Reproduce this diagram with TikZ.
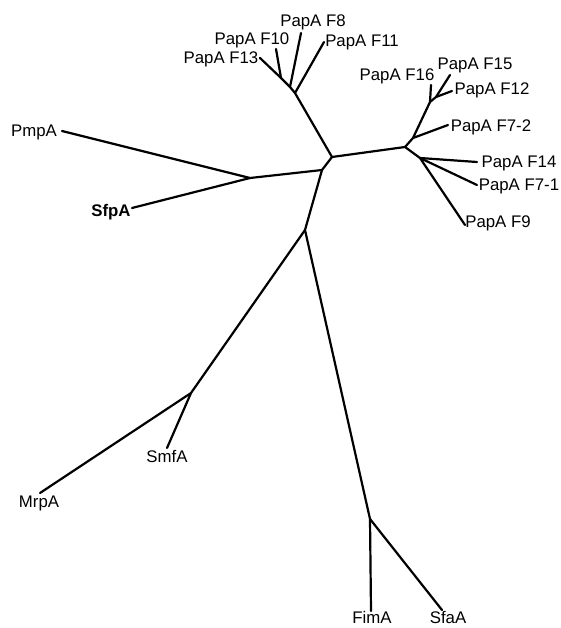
\documentclass[tikz,border=0pt]{standalone}
\usepackage{fontspec}
\setmainfont{Liberation Sans}
\tikzset{
    branch/.style={line width=2.2pt, line cap=round, line join=round}, % 树枝
    taxon/.style={font=\fontsize{16.8}{19}\selectfont, inner sep=0pt, anchor=base} % 叶子标签
}

\begin{document}
\begin{tikzpicture}[x=1pt, y=-1pt]
    \useasboundingbox (0,0) rectangle (560,628);

    % 内部节点
    \coordinate (a) at (332,157);
    \coordinate (b) at (322,170);
    \coordinate (c) at (250,178);
    \coordinate (d) at (305,230);
    \coordinate (e) at (191,393);
    \coordinate (f) at (370,519);
    \coordinate (g) at (405,147);
    \coordinate (h) at (430,102);
    \coordinate (k) at (436,97);
    \coordinate (j) at (413,138);
    \coordinate (i) at (420,158);
    \coordinate (t1) at (295,93);
    \coordinate (t2) at (290,87);
    \coordinate (t3) at (281,78);

    % 叶子端点
    \coordinate (lf13) at (260,58);
    \coordinate (lf10) at (276,49);
    \coordinate (lf8) at (301,33);
    \coordinate (lf11) at (324,42);
    \coordinate (lf16) at (431,85);
    \coordinate (lf15) at (450,75);
    \coordinate (lf12) at (452,91);
    \coordinate (lf72) at (448,125);
    \coordinate (lf14) at (477,162);
    \coordinate (lf71) at (477,185);
    \coordinate (lf9) at (465,225);
    \coordinate (lpmp) at (62,131);
    \coordinate (lsfp) at (132,208);
    \coordinate (lsmf) at (167,448);
    \coordinate (lmrp) at (40,493);
    \coordinate (lfim) at (371,611);
    \coordinate (lsfa) at (442,610);

    % 树枝
    \draw[branch] (lf13) -- (t3) -- (t2) -- (t1) -- (a) -- (b) -- (d) -- (f) -- (lfim);
    \draw[branch] (lf10) -- (t3);
    \draw[branch] (lf8) -- (t2);
    \draw[branch] (lf11) -- (t1);
    \draw[branch] (a) -- (g) -- (j) -- (h) -- (lf16);
    \draw[branch] (h) -- (k) -- (lf15);
    \draw[branch] (k) -- (lf12);
    \draw[branch] (j) -- (lf72);
    \draw[branch] (g) -- (i) -- (lf14);
    \draw[branch] (i) -- (lf71);
    \draw[branch] (i) -- (lf9);
    \draw[branch] (b) -- (c) -- (lpmp);
    \draw[branch] (c) -- (lsfp);
    \draw[branch] (d) -- (e) -- (lmrp);
    \draw[branch] (e) -- (lsmf);
    \draw[branch] (f) -- (lsfa);

    % 标签
    \node[taxon] (f8) at (313,27) {PapA F8};
    \node[taxon] (f10) at (252,45) {PapA F10};
    \node[taxon] (f11) at (362,47) {PapA F11};
    \node[taxon] (f13) at (221,64) {PapA F13};
    \node[taxon] (f16) at (397,81) {PapA F16};
    \node[taxon] (f15) at (475,70) {PapA F15};
    \node[taxon] (f12) at (492,95) {PapA F12};
    \node[taxon] (f72) at (491,132) {PapA F7-2};
    \node[taxon] (f14) at (519,168) {PapA F14};
    \node[taxon] (f71) at (519,191) {PapA F7-1};
    \node[taxon] (f9) at (498,227) {PapA F9};
    \node[taxon] (pmp) at (34,137) {PmpA};
    \node[taxon, font=\fontsize{16.8}{19}\selectfont\bfseries] (sfp) at (111,216) {SfpA};
    \node[taxon] (smf) at (167,462) {SmfA};
    \node[taxon] (mrp) at (39,507) {MrpA};
    \node[taxon] (fim) at (372,623) {FimA};
    \node[taxon] (sfa) at (448,623) {SfaA};
\end{tikzpicture}
\end{document}
